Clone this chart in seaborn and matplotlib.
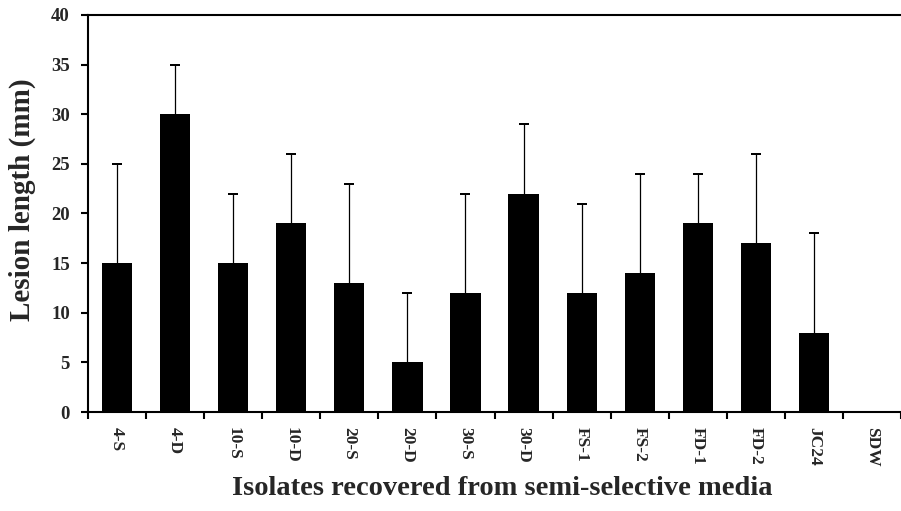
import matplotlib
matplotlib.use("Agg")
import matplotlib.pyplot as plt
import seaborn as sns
import pandas as pd
import numpy as np

categories = ["4-S", "4-D", "10-S", "10-D", "20-S", "20-D", "30-S", "30-D",
              "FS-1", "FS-2", "FD-1", "FD-2", "JC24", "SDW"]
means = [15, 30, 15, 19, 13, 5, 12, 22, 12, 14, 19, 17, 8, 0]
upper = [25, 35, 22, 26, 23, 12, 22, 29, 21, 24, 24, 26, 18, 0]
y_ticks = [0, 5, 10, 15, 20, 25, 30, 35, 40]

sns.set_theme(style="white")
plt.rcParams['font.family'] = ['Liberation Serif', 'DejaVu Serif']
plt.rcParams['font.weight'] = 'bold'

df = pd.DataFrame({"cat": categories, "mean": means, "upper": upper})

fig = plt.figure(figsize=(9.01, 5.11), dpi=100)
ax = fig.add_axes([0.0977, 0.1937, 0.9023, 0.777])

sns.barplot(data=df, x="cat", y="mean", color="black", width=0.52,
            saturation=1, ax=ax, errorbar=None, edgecolor="black", linewidth=0)
x = np.arange(len(categories))
err_up = df["upper"] - df["mean"]
mask = (err_up > 0).to_numpy()
ax.errorbar(x[mask], df["upper"][mask], yerr=[err_up[mask], np.zeros(mask.sum())],
            fmt="none", ecolor="black", elinewidth=0.9, capsize=0)
ax.errorbar(x[mask], df["upper"][mask], yerr=0, fmt="none", ecolor="black",
            elinewidth=0, capsize=3.5, capthick=1.3)

ax.set_ylim(0, 40)
ax.set_yticks(y_ticks)
ax.set_xlim(-0.5, 13.27)
ax.set_xticks(x)
ax.set_xticklabels(categories, rotation=270, fontsize=12.5, fontweight="bold")
ax.set_xticks(np.arange(-0.5, 14, 1), minor=True)
ax.tick_params(axis="x", which="major", length=0, pad=11)
ax.tick_params(axis="x", which="minor", length=5, width=1.5, direction="out",
               bottom=True, color="black")
ax.tick_params(axis="y", which="major", length=5, width=1.5, direction="out",
               left=True, labelsize=13.5, color="black", pad=8)
for lab in ax.get_yticklabels():
    lab.set_fontweight("bold")

ax.set_ylabel("Lesion length (mm)", fontsize=21, fontweight="bold")
ax.yaxis.set_label_coords(-0.064, 0.534)
ax.set_xlabel("Isolates recovered from semi-selective media", fontsize=20.5,
              fontweight="bold")
ax.xaxis.set_label_coords(0.51, -0.16)

for s in ["left", "bottom", "top"]:
    ax.spines[s].set_visible(True)
    ax.spines[s].set_color("black")
    ax.spines[s].set_linewidth(1.5)
ax.spines["right"].set_visible(False)

fig.savefig("out.png", dpi=100)
